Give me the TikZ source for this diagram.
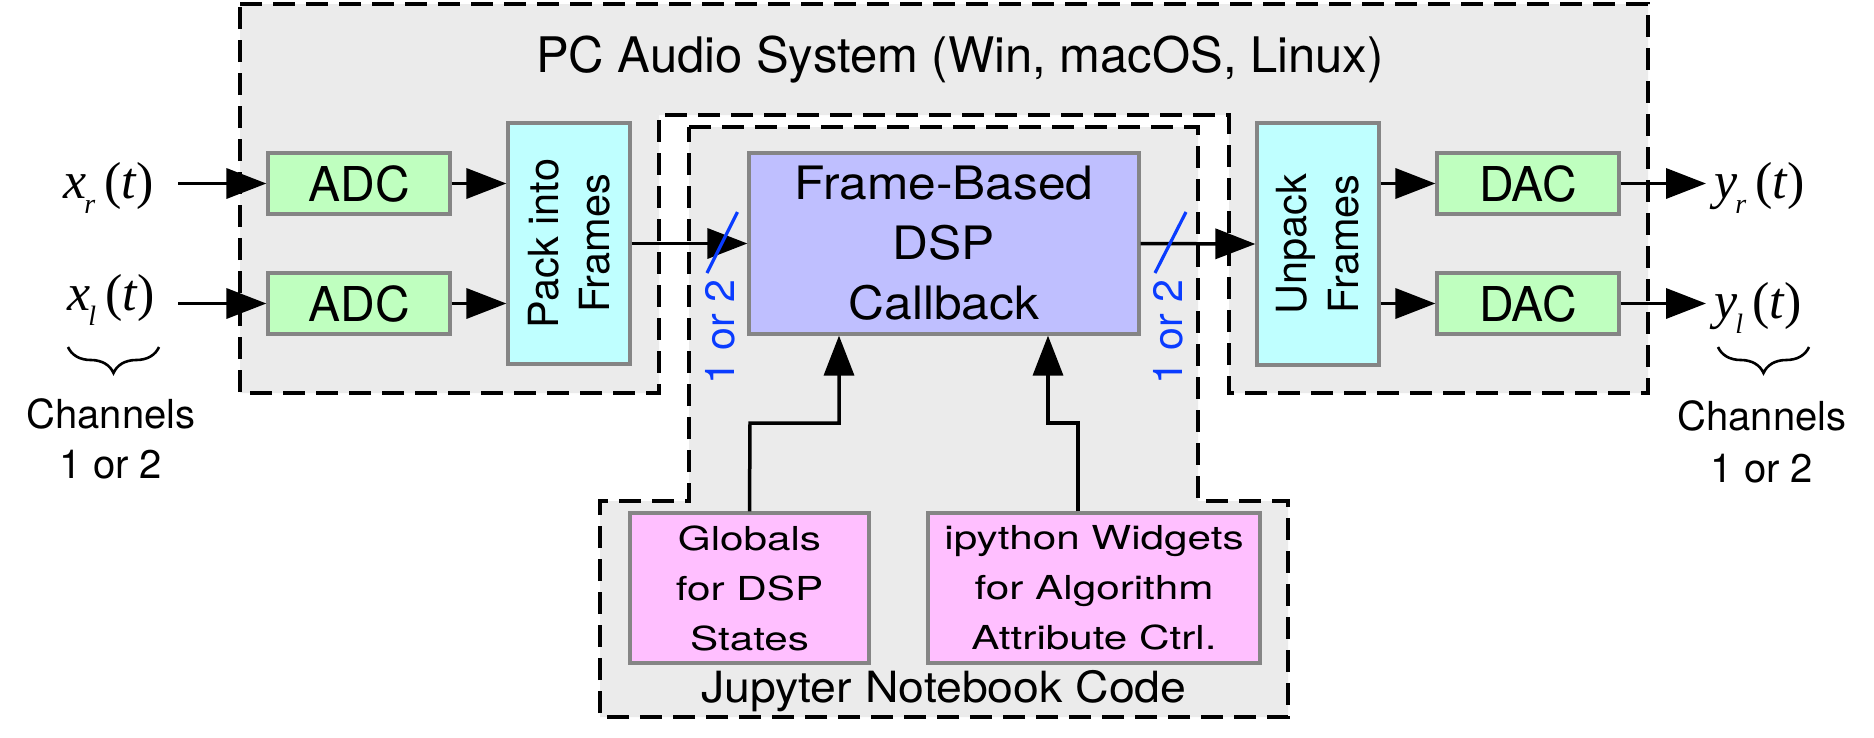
\documentclass[tikz,border=0pt]{standalone}
\usepackage{fontspec}
\setmainfont{TeX Gyre Heros}
\newfontfamily\tms{Liberation Serif}
\usetikzlibrary{arrows.meta,decorations.pathreplacing}
\definecolor{bggray}{HTML}{EBEBEB}
\definecolor{bordergray}{HTML}{858585}
\definecolor{adcgreen}{HTML}{BFFFBF}
\definecolor{packcyan}{HTML}{BFFFFF}
\definecolor{dsplav}{HTML}{BFBFFF}
\definecolor{jpink}{HTML}{FFBFFF}
\definecolor{slashblue}{HTML}{0A3CFF}
\newcommand{\sig}[2]{{\tms\itshape #1}\kern-2pt\raisebox{-15pt}{\fontsize{28}{28}\selectfont\tms\itshape #2}\kern9pt{\tms(}{\tms\itshape t}\kern1pt{\tms)}}
\tikzset{
  region/.style={fill=bggray, draw=black, line width=3.5pt, dash pattern=on 22pt off 11pt},
  blk/.style={draw=bordergray, line width=3.2pt, inner sep=0pt, align=center},
  arr/.style={line width=3.5pt, -{Triangle[length=40pt,width=30pt]}},
  bluetxt/.style={text=slashblue, rotate=90, inner sep=0pt, font=\fontsize{41}{48}\selectfont},
  slash/.style={draw=slashblue, line width=3.2pt},
  brc/.style={decorate, decoration={brace, mirror, amplitude=26pt}, line width=2.6pt},
  lbl/.style={inner sep=0pt, font=\fontsize{52}{60}\selectfont},
  chtxt/.style={inner sep=0pt, anchor=base, font=\fontsize{40}{50}\selectfont},
  jtxt/.style={blk, fill=jpink, minimum height=150pt, font=\fontsize{33}{50}\addfontfeatures{FakeStretch=1.28}\selectfont}
}
\begin{document}
\begin{tikzpicture}[x=1pt,y=-1pt]
\useasboundingbox (0,0) rectangle (1874,737);
% regions
\path[region] (240,4) -- (1648,4) -- (1648,393) -- (1229,393) -- (1229,115) -- (659,115) -- (659,393) -- (240,393) -- cycle;
\path[region] (689,127) -- (1198,127) -- (1198,501) -- (1288,501) -- (1288,717) -- (600,717) -- (600,501) -- (689,501) -- cycle;
\node[inner sep=0pt, anchor=base, font=\fontsize{49}{58}\selectfont] (title) at (960,72) {PC Audio System (Win, macOS, Linux)};
\node[inner sep=0pt, anchor=base, font=\fontsize{43}{52}\addfontfeatures{FakeStretch=1.08}\selectfont] (jup) at (944,702) {Jupyter Notebook Code};
% blocks
\tikzset{adcf/.style={blk, fill=adcgreen, minimum width=182pt, minimum height=61pt, font=\fontsize{48}{58}\selectfont}}
\node[adcf] (adc1) at (359,183.5) {ADC};
\node[adcf] (adc2) at (359,303.5) {ADC};
\node[adcf] (dac1) at (1528,183.5) {DAC};
\node[adcf] (dac2) at (1528,303.5) {DAC};
\node[blk, fill=packcyan, minimum width=122pt, minimum height=241pt] (pack) at (569,243.5) {};
\node[rotate=90, align=center, inner sep=0pt, font=\fontsize{41.5}{51}\selectfont] (packt) at (pack.center) {Pack into\\Frames};
\node[blk, fill=packcyan, minimum width=122pt, minimum height=242pt] (unpack) at (1318,244) {};
\node[rotate=90, align=center, inner sep=0pt, font=\fontsize{41.5}{52}\selectfont] (unpackt) at (unpack.center) {Unpack\\Frames};
\node[blk, fill=dsplav, minimum width=390pt, minimum height=181pt, font=\fontsize{46}{60}\addfontfeatures{FakeStretch=1.08}\selectfont] (dsp) at (944,243.5) {Frame-Based\\DSP\\Callback};
\node[jtxt, minimum width=239pt] (glob) at (749.5,588) {Globals\\for DSP\\States};
\node[jtxt, minimum width=332pt] (ipy) at (1094,588) {ipython Widgets\\for Algorithm\\Attribute Ctrl.};
% signal labels
\node[lbl, anchor=base west] (xr) at (63,198) {\sig{x}{r}};
\node[lbl, anchor=base west] (xl) at (67,310) {\sig{x}{l}};
\node[lbl, anchor=base west] (yr) at (1714,198) {\sig{y}{r}};
\node[lbl, anchor=base west] (yl) at (1714,318) {\sig{y}{l}};
\coordinate (xrs) at (178,183.5);
\coordinate (xls) at (178,303.5);
\coordinate (yre) at (1706,183.5);
\coordinate (yle) at (1706,303.5);
% arrows
\draw[arr] (xrs) -- (adc1.west);
\draw[arr] (xls) -- (adc2.west);
\draw[arr] (adc1.east) -- (adc1.east -| pack.west);
\draw[arr] (adc2.east) -- (adc2.east -| pack.west);
\draw[arr] (pack.east) -- (dsp.west);
\draw[arr] (dsp.east) -- (unpack.west);
\draw[arr] (dac1.west -| unpack.east) -- (dac1.west);
\draw[arr] (dac2.west -| unpack.east) -- (dac2.west);
\draw[arr] (dac1.east) -- (yre);
\draw[arr] (dac2.east) -- (yle);
\coordinate (g1) at (750,423);
\coordinate (g2) at (1078,423);
\draw[arr] (glob.north) -- (g1) -| ([xshift=-105pt]dsp.south);
\draw[arr] ([xshift=-16pt]ipy.north) -- (g2) -| ([xshift=104pt]dsp.south);
% slashes and bus labels
\draw[slash] (707,273) -- (737.5,212);
\draw[slash] (1155,273) -- (1186,212);
\node[bluetxt] (b1) at (720,332) {1 or 2};
\node[bluetxt] (b2) at (1168,332) {1 or 2};
% braces
\draw[brc] (68,347) -- (159,347);
\draw[brc] (1718,347) -- (1809,347);
\node[chtxt] (ch1) at (111,428) {Channels};
\node[chtxt] (ch1b) at (111,478) {1 or 2};
\node[chtxt] (ch2) at (1762,430) {Channels};
\node[chtxt] (ch2b) at (1762,482) {1 or 2};
\end{tikzpicture}
\end{document}
